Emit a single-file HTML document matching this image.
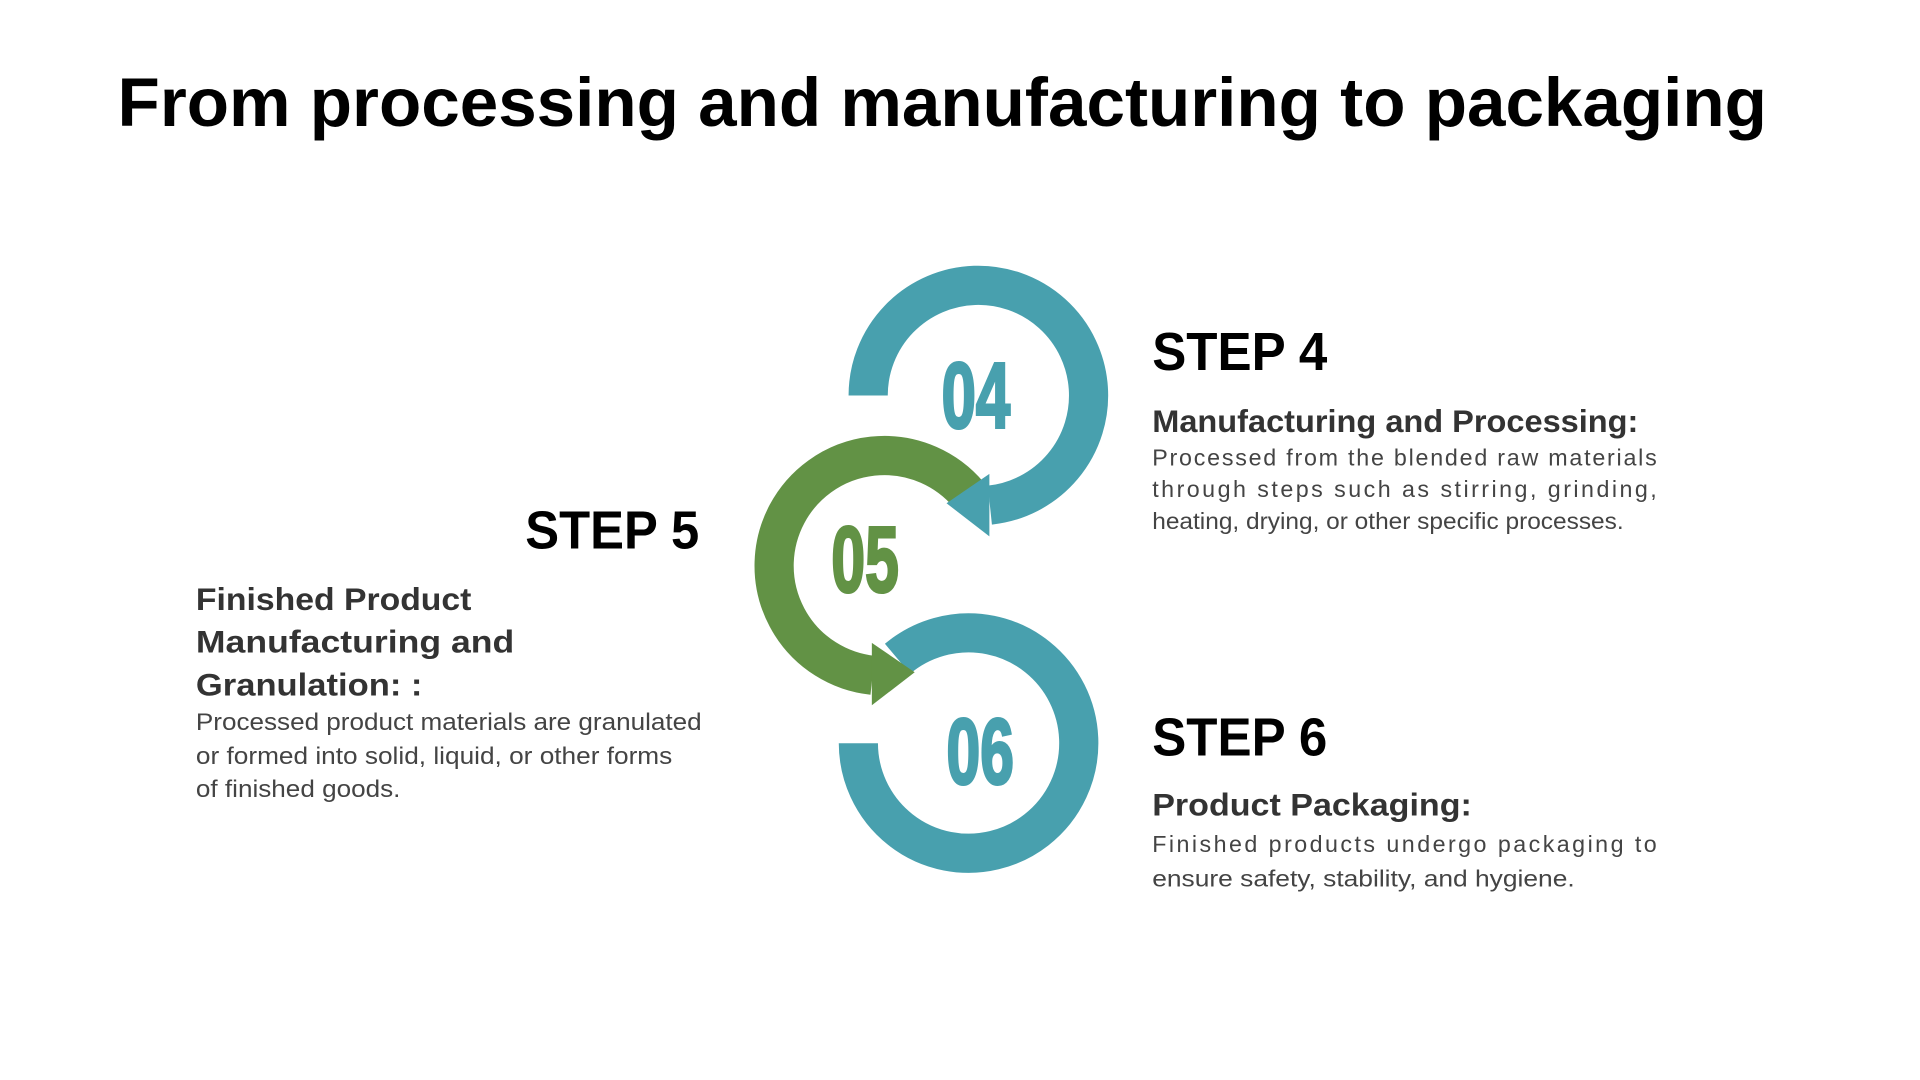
<!DOCTYPE html>
<html><head><meta charset="utf-8"><style>
html,body{margin:0;padding:0;background:#fff;}
svg{display:block;}
text{font-family:"Liberation Sans",sans-serif;}
</style></head><body>
<svg width="1920" height="1080" viewBox="0 0 1568 882" preserveAspectRatio="none" xmlns="http://www.w3.org/2000/svg">
<rect width="1568" height="882" fill="#fff"/>
<text x="96" y="103" font-size="56" font-weight="bold" fill="#000" textLength="1347" lengthAdjust="spacingAndGlyphs">From processing and manufacturing to packaging</text>

<!-- 06 -->
<path d="M701 607 A90 90 0 1 0 733 538" fill="none" stroke="#48A0AE" stroke-width="32"/>
<!-- 05 -->
<path d="M791 404 A90 90 0 1 0 712.6 551.5" fill="none" stroke="#629245" stroke-width="32"/>
<polygon points="712,525 712,576 747,549" fill="#629245"/>
<!-- 04 -->
<path d="M709 323 A90 90 0 1 1 808.4 412.5" fill="none" stroke="#48A0AE" stroke-width="32"/>
<polygon points="808,387 808,438 773,411" fill="#48A0AE"/>

<g font-family="'Liberation Sans',sans-serif" font-weight="bold" font-size="76" stroke-width="2.5">
<text x="769" y="349" fill="#48A0AE" stroke="#48A0AE" textLength="56" lengthAdjust="spacingAndGlyphs">04</text>
<text x="679" y="483" fill="#629245" stroke="#629245" textLength="55" lengthAdjust="spacingAndGlyphs">05</text>
<text x="773" y="640" fill="#48A0AE" stroke="#48A0AE" textLength="55" lengthAdjust="spacingAndGlyphs">06</text>
</g>

<g font-weight="bold" fill="#000" font-size="44">
<text x="941" y="302" textLength="143" lengthAdjust="spacingAndGlyphs">STEP 4</text>
<text x="429" y="448" textLength="142" lengthAdjust="spacingAndGlyphs">STEP 5</text>
<text x="941" y="617" textLength="143" lengthAdjust="spacingAndGlyphs">STEP 6</text>
</g>

<g font-weight="bold" fill="#333" font-size="26">
<text x="941" y="353" textLength="397" lengthAdjust="spacingAndGlyphs">Manufacturing and Processing:</text>
<text x="160" y="498" textLength="225" lengthAdjust="spacingAndGlyphs">Finished Product</text>
<text x="160" y="533" textLength="260" lengthAdjust="spacingAndGlyphs">Manufacturing and</text>
<text x="160" y="568" textLength="185" lengthAdjust="spacingAndGlyphs">Granulation: :</text>
<text x="941" y="666" textLength="261" lengthAdjust="spacingAndGlyphs">Product Packaging:</text>
</g>

<g fill="#444" font-size="19">
<text x="941" y="380" textLength="412" lengthAdjust="spacing">Processed from the blended raw materials</text>
<text x="941" y="406" textLength="412" lengthAdjust="spacing">through steps such as stirring, grinding,</text>
<text x="941" y="432" textLength="385" lengthAdjust="spacingAndGlyphs">heating, drying, or other specific processes.</text>
<text x="941" y="696" textLength="412" lengthAdjust="spacing">Finished products undergo packaging to</text>
<text x="941" y="724" textLength="345" lengthAdjust="spacingAndGlyphs">ensure safety, stability, and hygiene.</text>
</g>
<g fill="#444" font-size="20">
<text x="160" y="596" textLength="413" lengthAdjust="spacingAndGlyphs">Processed product materials are granulated</text>
<text x="160" y="624" textLength="389" lengthAdjust="spacingAndGlyphs">or formed into solid, liquid, or other forms</text>
<text x="160" y="651" textLength="167" lengthAdjust="spacingAndGlyphs">of finished goods.</text>
</g>
</svg>
</body></html>
